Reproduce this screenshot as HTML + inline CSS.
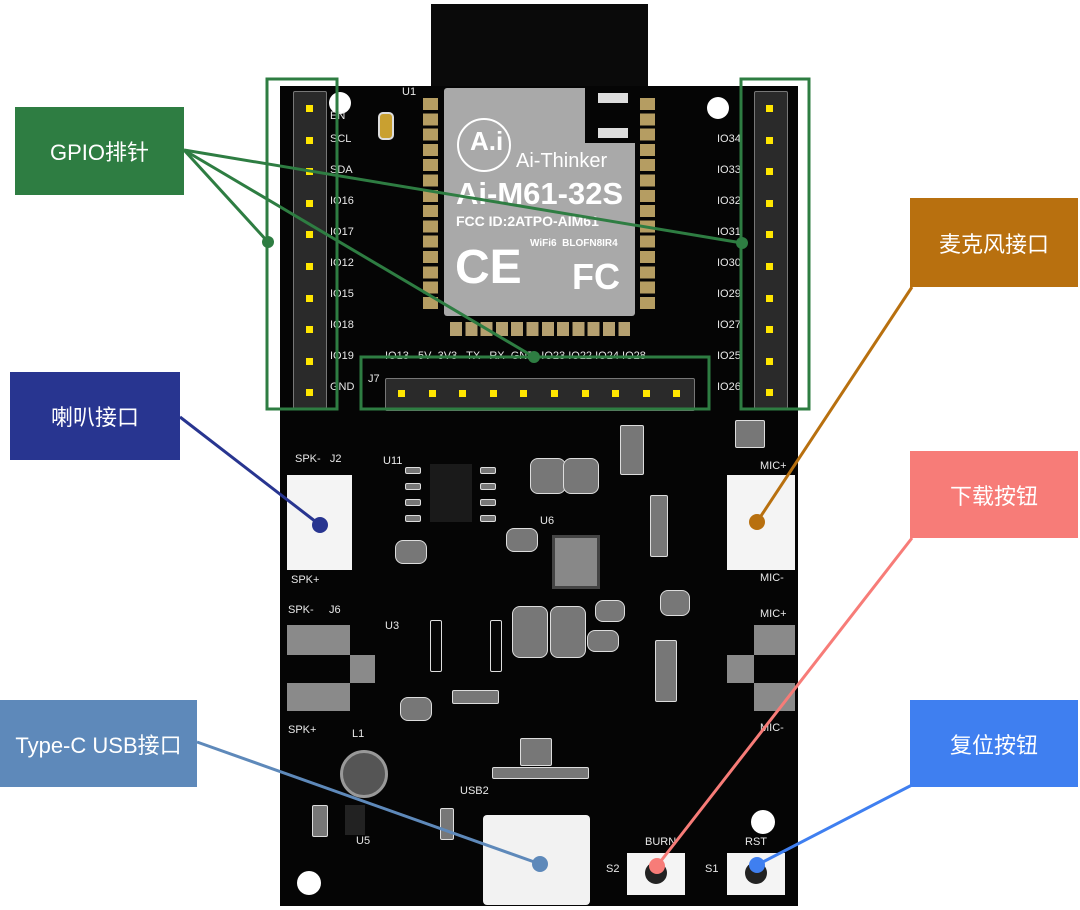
<!DOCTYPE html>
<html><head><meta charset="utf-8"><style>
body{margin:0;width:1080px;height:910px;background:#fff;position:relative;overflow:hidden;font-family:"Liberation Sans","Noto Sans CJK SC",sans-serif}
.a{position:absolute}
.lbl{position:absolute;color:#fff;font-size:22px;display:flex;align-items:center;justify-content:center}
.silk{position:absolute;color:#e8e8e8;font-size:11px;font-family:"Liberation Sans",sans-serif}
.pin{position:absolute;width:7px;height:7px;background:#ffe600}
.c{position:absolute;border:1.5px solid #ddd;background:#777;border-radius:2px}
</style></head><body>
<div class="a" style="left:431px;top:4px;width:217px;height:90px;background:#0a0a0a"></div>
<div class="a" style="left:280px;top:86px;width:518px;height:820px;background:#050505"></div>
<div class="a" style="left:444px;top:88px;width:191px;height:228px;background:#a9a9a9;border-radius:3px"></div>
<div class="a" style="left:585px;top:88px;width:50px;height:55px;background:#050505"></div>
<div class="a" style="left:598px;top:93px;width:30px;height:10px;background:#ddd"></div>
<div class="a" style="left:598px;top:128px;width:30px;height:10px;background:#ddd"></div>
<div class="a" style="left:457px;top:118px;width:50px;height:50px;border:2px solid #fff;border-radius:50%"></div>
<div class="silk" style="left:470px;top:126px;font-size:26px;font-weight:bold;color:#fff">A.i</div>
<div class="silk" style="left:516px;top:150px;font-size:20px;color:#fff">Ai-Thinker</div>
<div class="silk" style="left:456px;top:176px;font-size:31px;font-weight:bold;color:#fff">Ai-M61-32S</div>
<div class="silk" style="left:456px;top:213px;font-size:14px;font-weight:bold;color:#fff">FCC ID:2ATPO-AIM61</div>
<div class="silk" style="left:530px;top:238px;font-size:10px;font-weight:bold;color:#fff">WiFi6 &nbsp;BLOFN8IR4</div>
<div class="silk" style="left:455px;top:240px;font-size:48px;font-weight:bold;color:#fff">CE</div>
<div class="silk" style="left:572px;top:256px;font-size:36px;font-weight:bold;color:#fff">FC</div>
<div class="a" style="left:423px;top:98px;width:15px;height:214px;background:repeating-linear-gradient(#b59d62 0 12px,#050505 12px 15.3px)"></div>
<div class="a" style="left:640px;top:98px;width:15px;height:214px;background:repeating-linear-gradient(#b59d62 0 12px,#050505 12px 15.3px)"></div>
<div class="a" style="left:450px;top:322px;width:180px;height:14px;background:repeating-linear-gradient(90deg,#b5a070 0 12px,#050505 12px 15.3px)"></div>
<div class="a" style="left:329px;top:92px;width:22px;height:22px;border-radius:50%;background:#fff"></div>
<div class="a" style="left:707px;top:97px;width:22px;height:22px;border-radius:50%;background:#fff"></div>
<div class="a" style="left:297px;top:871px;width:24px;height:24px;border-radius:50%;background:#fff"></div>
<div class="a" style="left:751px;top:810px;width:24px;height:24px;border-radius:50%;background:#fff"></div>
<div class="a" style="left:293px;top:91px;width:32px;height:316px;background:#2a2a2a;border:1px solid #777;border-radius:2px"></div>
<div class="a" style="left:754px;top:91px;width:32px;height:316px;background:#2a2a2a;border:1px solid #777;border-radius:2px"></div>
<div class="a" style="left:385px;top:378px;width:308px;height:31px;background:#2a2a2a;border:1px solid #777;border-radius:2px"></div>
<div id="pins"></div>
<div class="silk" style="left:330px;top:110px">EN</div><div class="silk" style="left:330px;top:133px">SCL</div>
<div class="silk" style="left:330px;top:164px">SDA</div><div class="silk" style="left:330px;top:195px">IO16</div>
<div class="silk" style="left:330px;top:226px">IO17</div><div class="silk" style="left:330px;top:257px">IO12</div>
<div class="silk" style="left:330px;top:288px">IO15</div><div class="silk" style="left:330px;top:319px">IO18</div>
<div class="silk" style="left:330px;top:350px">IO19</div><div class="silk" style="left:330px;top:381px">GND</div>
<div class="silk" style="left:717px;top:133px">IO34</div><div class="silk" style="left:717px;top:164px">IO33</div>
<div class="silk" style="left:717px;top:195px">IO32</div><div class="silk" style="left:717px;top:226px">IO31</div>
<div class="silk" style="left:717px;top:257px">IO30</div><div class="silk" style="left:717px;top:288px">IO29</div>
<div class="silk" style="left:717px;top:319px">IO27</div><div class="silk" style="left:717px;top:350px">IO25</div>
<div class="silk" style="left:717px;top:381px">IO26</div>
<div class="silk" style="left:385px;top:350px">IO13 &nbsp; 5V &nbsp;3V3 &nbsp; TX &nbsp; RX &nbsp;GND &nbsp;IO23 IO22 IO24 IO28</div>
<div class="silk" style="left:368px;top:373px">J7</div>
<div class="silk" style="left:402px;top:86px">U1</div>
<div class="a" style="left:378px;top:112px;width:12px;height:24px;background:#c9a030;border:2px solid #ddd;border-radius:5px"></div>
<!-- lower components -->
<div class="a" style="left:430px;top:464px;width:42px;height:58px;background:#1a1a1a"></div>
<div class="c" style="left:405px;top:467px;width:14px;height:5px"></div><div class="c" style="left:405px;top:483px;width:14px;height:5px"></div>
<div class="c" style="left:405px;top:499px;width:14px;height:5px"></div><div class="c" style="left:405px;top:515px;width:14px;height:5px"></div>
<div class="c" style="left:480px;top:467px;width:14px;height:5px"></div><div class="c" style="left:480px;top:483px;width:14px;height:5px"></div>
<div class="c" style="left:480px;top:499px;width:14px;height:5px"></div><div class="c" style="left:480px;top:515px;width:14px;height:5px"></div>
<div class="a" style="left:552px;top:535px;width:42px;height:48px;background:#888;border:3px solid #444"></div>
<div class="c" style="left:530px;top:458px;width:34px;height:34px;border-radius:8px"></div>
<div class="c" style="left:563px;top:458px;width:34px;height:34px;border-radius:8px"></div>
<div class="c" style="left:512px;top:606px;width:34px;height:50px;border-radius:8px"></div>
<div class="c" style="left:550px;top:606px;width:34px;height:50px;border-radius:8px"></div>
<div class="c" style="left:595px;top:600px;width:28px;height:20px;border-radius:8px"></div>
<div class="c" style="left:587px;top:630px;width:30px;height:20px;border-radius:8px"></div>
<div class="c" style="left:660px;top:590px;width:28px;height:24px;border-radius:8px"></div>
<div class="c" style="left:506px;top:528px;width:30px;height:22px;border-radius:8px"></div>
<div class="c" style="left:395px;top:540px;width:30px;height:22px;border-radius:8px"></div>
<div class="c" style="left:400px;top:697px;width:30px;height:22px;border-radius:8px"></div>
<div class="c" style="left:655px;top:640px;width:20px;height:60px"></div>
<div class="c" style="left:620px;top:425px;width:22px;height:48px"></div>
<div class="c" style="left:735px;top:420px;width:28px;height:26px"></div>
<div class="c" style="left:650px;top:495px;width:16px;height:60px"></div>
<div class="c" style="left:452px;top:690px;width:45px;height:12px"></div>
<div class="c" style="left:520px;top:738px;width:30px;height:26px"></div>
<div class="c" style="left:492px;top:767px;width:95px;height:10px"></div>
<div class="c" style="left:312px;top:805px;width:14px;height:30px"></div>
<div class="a" style="left:345px;top:805px;width:20px;height:30px;background:#222"></div>
<div class="c" style="left:440px;top:808px;width:12px;height:30px"></div>
<div class="c" style="left:430px;top:620px;width:10px;height:50px;background:#050505"></div>
<div class="c" style="left:490px;top:620px;width:10px;height:50px;background:#050505"></div>
<div class="a" style="left:287px;top:475px;width:65px;height:95px;background:#f4f4f4"></div>
<div class="a" style="left:727px;top:475px;width:68px;height:95px;background:#f4f4f4"></div>
<div class="a" style="left:287px;top:625px;width:63px;height:30px;background:#8a8a8a"></div>
<div class="a" style="left:287px;top:683px;width:63px;height:28px;background:#8a8a8a"></div>
<div class="a" style="left:754px;top:625px;width:41px;height:30px;background:#8a8a8a"></div>
<div class="a" style="left:754px;top:683px;width:41px;height:28px;background:#8a8a8a"></div>
<div class="a" style="left:350px;top:655px;width:25px;height:28px;background:#8a8a8a"></div>
<div class="a" style="left:727px;top:655px;width:27px;height:28px;background:#8a8a8a"></div>
<div class="a" style="left:340px;top:750px;width:42px;height:42px;border-radius:50%;background:#555;border:3px solid #999"></div>
<div class="a" style="left:483px;top:815px;width:107px;height:90px;background:#f2f2f2;border-radius:4px"></div>
<div class="a" style="left:627px;top:853px;width:58px;height:42px;background:#f4f4f4"></div>
<div class="a" style="left:645px;top:862px;width:22px;height:22px;border-radius:50%;background:#222"></div>
<div class="a" style="left:727px;top:853px;width:58px;height:42px;background:#f4f4f4"></div>
<div class="a" style="left:745px;top:862px;width:22px;height:22px;border-radius:50%;background:#222"></div>
<div class="silk" style="left:295px;top:453px">SPK- &nbsp; J2</div><div class="silk" style="left:291px;top:574px">SPK+</div>
<div class="silk" style="left:288px;top:604px">SPK- &nbsp; &nbsp; J6</div><div class="silk" style="left:288px;top:724px">SPK+</div>
<div class="silk" style="left:760px;top:460px">MIC+</div><div class="silk" style="left:760px;top:572px">MIC-</div>
<div class="silk" style="left:760px;top:608px">MIC+</div><div class="silk" style="left:760px;top:722px">MIC-</div>
<div class="silk" style="left:645px;top:836px">BURN</div><div class="silk" style="left:745px;top:836px">RST</div>
<div class="silk" style="left:606px;top:863px">S2</div><div class="silk" style="left:705px;top:863px">S1</div>
<div class="silk" style="left:460px;top:785px">USB2</div><div class="silk" style="left:383px;top:455px">U11</div>
<div class="silk" style="left:540px;top:515px">U6</div><div class="silk" style="left:385px;top:620px">U3</div>
<div class="silk" style="left:352px;top:728px">L1</div><div class="silk" style="left:356px;top:835px">U5</div>
<div class="lbl" style="left:15px;top:107px;width:169px;height:88px;background:#2e7d42">GPIO排针</div>
<div class="lbl" style="left:910px;top:198px;width:168px;height:89px;background:#b8700f">麦克风接口</div>
<div class="lbl" style="left:10px;top:372px;width:170px;height:88px;background:#283590">喇叭接口</div>
<div class="lbl" style="left:910px;top:451px;width:168px;height:87px;background:#f77c78">下载按钮</div>
<div class="lbl" style="left:0px;top:700px;width:197px;height:87px;background:#5e89ba">Type-C USB接口</div>
<div class="lbl" style="left:910px;top:700px;width:168px;height:87px;background:#3f7ff0">复位按钮</div>
<svg class="a" style="left:0;top:0" width="1080" height="910">
<g fill="none" stroke="#2e7d42" stroke-width="3">
<rect x="267" y="79" width="70" height="330"/><rect x="361" y="357" width="348" height="52"/><rect x="741" y="79" width="68" height="330"/>
<line x1="184" y1="150" x2="268" y2="242"/><line x1="184" y1="150" x2="742" y2="243"/><line x1="184" y1="150" x2="534" y2="357"/>
</g>
<g fill="#2e7d42"><circle cx="268" cy="242" r="6"/><circle cx="742" cy="243" r="6"/><circle cx="534" cy="357" r="6"/></g>
<line x1="912" y1="287" x2="757" y2="522" stroke="#b8700f" stroke-width="3"/><circle cx="757" cy="522" r="8" fill="#b8700f"/>
<line x1="180" y1="417" x2="320" y2="525" stroke="#283590" stroke-width="3"/><circle cx="320" cy="525" r="8" fill="#283590"/>
<line x1="912" y1="538" x2="657" y2="866" stroke="#f77c78" stroke-width="3"/><circle cx="657" cy="866" r="8" fill="#f77c78"/>
<line x1="197" y1="742" x2="540" y2="864" stroke="#5e89ba" stroke-width="3"/><circle cx="540" cy="864" r="8" fill="#5e89ba"/>
<line x1="912" y1="785" x2="757" y2="865" stroke="#3f7ff0" stroke-width="3"/><circle cx="757" cy="865" r="8" fill="#3f7ff0"/>
</svg>
<script>
var h='';for(var i=0;i<10;i++){var y=105+i*31.6;h+='<div class="pin" style="left:306px;top:'+y+'px"></div><div class="pin" style="left:766px;top:'+y+'px"></div>';h+='<div class="pin" style="left:'+(398+i*30.6)+'px;top:390px"></div>';}
document.getElementById('pins').outerHTML=h;
</script>
</body></html>
